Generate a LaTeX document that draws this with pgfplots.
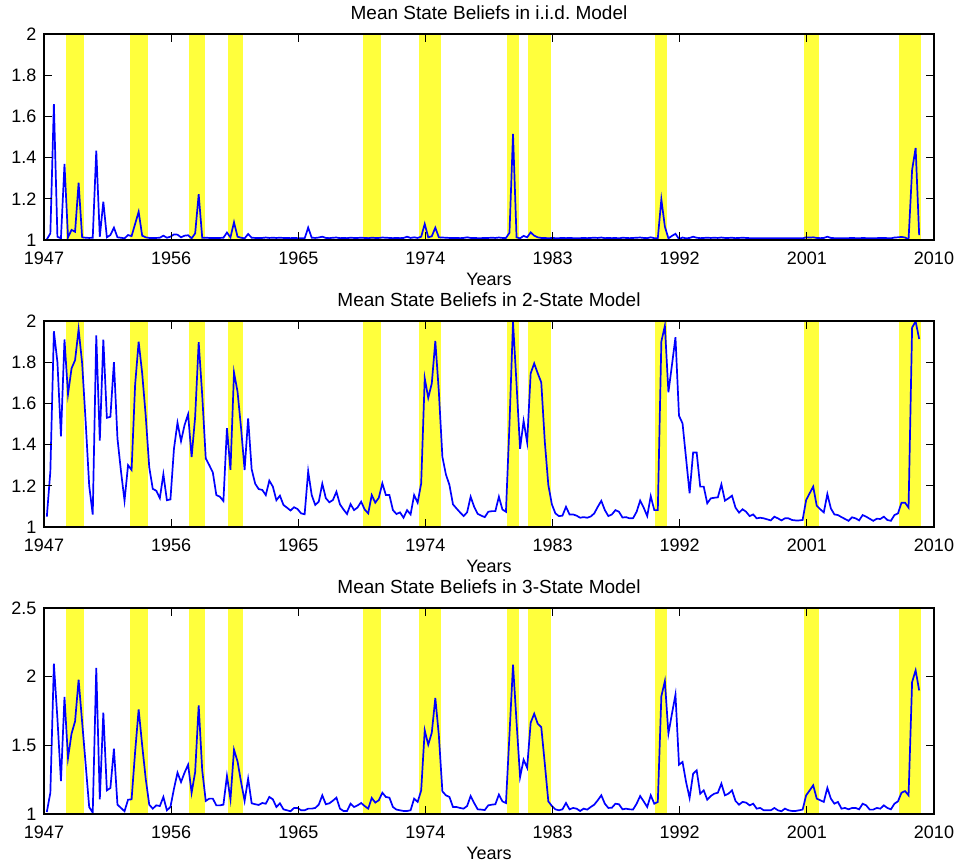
\documentclass[border=0pt]{standalone}
\usepackage{fontspec}
\setmainfont{Liberation Sans}
\usepackage{pgfplots}
\usepackage{pgfplotstable}
\pgfplotsset{compat=1.18}
\definecolor{recyellow}{RGB}{255,255,60}

% quarterly mean state beliefs
\pgfplotstableread{
t iid two three
1947.20 1.003 1.050 1.015
1947.45 1.032 1.270 1.155
1947.70 1.660 1.950 2.094
1947.95 1.016 1.800 1.694
1948.20 1.008 1.440 1.240
1948.45 1.369 1.910 1.852
1948.70 1.013 1.645 1.408
1948.95 1.049 1.770 1.585
1949.20 1.040 1.810 1.675
1949.45 1.278 1.960 1.978
1949.70 1.013 1.795 1.670
1949.95 1.011 1.510 1.360
1950.20 1.010 1.200 1.050
1950.45 1.011 1.060 1.010
1950.70 1.434 1.930 2.063
1950.95 1.016 1.420 1.107
1951.20 1.186 1.910 1.738
1951.45 1.013 1.530 1.172
1951.70 1.024 1.535 1.189
1951.95 1.060 1.800 1.476
1952.20 1.013 1.430 1.068
1952.45 1.011 1.270 1.044
1952.70 1.008 1.128 1.020
1952.95 1.024 1.300 1.104
1953.20 1.019 1.277 1.107
1953.45 1.078 1.690 1.452
1953.70 1.137 1.900 1.762
1953.95 1.021 1.746 1.500
1954.20 1.013 1.540 1.257
1954.45 1.010 1.290 1.068
1954.70 1.010 1.185 1.039
1954.95 1.010 1.176 1.063
1955.20 1.011 1.140 1.058
1955.45 1.021 1.256 1.124
1955.70 1.011 1.130 1.027
1955.95 1.016 1.134 1.051
1956.20 1.027 1.380 1.184
1956.45 1.026 1.506 1.301
1956.70 1.013 1.417 1.233
1956.95 1.021 1.495 1.301
1957.20 1.023 1.547 1.359
1957.45 1.008 1.340 1.155
1957.70 1.032 1.535 1.306
1957.95 1.222 1.897 1.791
1958.20 1.011 1.640 1.318
1958.45 1.011 1.333 1.095
1958.70 1.010 1.300 1.112
1958.95 1.010 1.265 1.112
1959.20 1.010 1.155 1.063
1959.45 1.010 1.147 1.063
1959.70 1.011 1.126 1.068
1959.95 1.036 1.480 1.277
1960.20 1.013 1.277 1.107
1960.45 1.086 1.750 1.468
1960.70 1.016 1.657 1.383
1960.95 1.011 1.480 1.233
1961.20 1.008 1.277 1.095
1961.45 1.029 1.527 1.257
1961.70 1.011 1.280 1.078
1961.95 1.010 1.210 1.071
1962.20 1.010 1.184 1.066
1962.45 1.010 1.180 1.080
1962.70 1.012 1.155 1.075
1962.95 1.010 1.225 1.124
1963.20 1.011 1.196 1.107
1963.45 1.010 1.130 1.051
1963.70 1.011 1.152 1.078
1963.95 1.010 1.107 1.034
1964.20 1.010 1.094 1.027
1964.45 1.009 1.080 1.020
1964.70 1.010 1.096 1.044
1964.95 1.009 1.087 1.044
1965.20 1.008 1.066 1.027
1965.45 1.008 1.062 1.027
1965.70 1.060 1.270 1.039
1965.95 1.011 1.155 1.039
1966.20 1.010 1.107 1.044
1966.45 1.012 1.123 1.068
1966.70 1.016 1.210 1.136
1966.95 1.010 1.140 1.071
1967.20 1.009 1.120 1.078
1967.45 1.011 1.131 1.097
1967.70 1.012 1.171 1.119
1967.95 1.009 1.110 1.039
1968.20 1.010 1.085 1.022
1968.45 1.009 1.063 1.022
1968.70 1.011 1.111 1.075
1968.95 1.010 1.082 1.051
1969.20 1.010 1.095 1.063
1969.45 1.011 1.123 1.080
1969.70 1.010 1.085 1.058
1969.95 1.009 1.066 1.039
1970.20 1.011 1.155 1.117
1970.45 1.010 1.118 1.083
1970.70 1.010 1.142 1.100
1970.95 1.012 1.212 1.155
1971.20 1.011 1.155 1.124
1971.45 1.010 1.155 1.119
1971.70 1.009 1.082 1.051
1971.95 1.010 1.063 1.032
1972.20 1.009 1.071 1.027
1972.45 1.010 1.045 1.022
1972.70 1.016 1.082 1.022
1972.95 1.010 1.061 1.027
1973.20 1.013 1.155 1.112
1973.45 1.010 1.118 1.088
1973.70 1.016 1.212 1.172
1973.95 1.078 1.722 1.609
1974.20 1.013 1.627 1.505
1974.45 1.018 1.697 1.592
1974.70 1.060 1.903 1.845
1974.95 1.013 1.657 1.573
1975.20 1.012 1.341 1.165
1975.45 1.011 1.255 1.136
1975.70 1.010 1.204 1.124
1975.95 1.010 1.110 1.051
1976.20 1.010 1.090 1.051
1976.45 1.009 1.071 1.044
1976.70 1.010 1.053 1.039
1976.95 1.013 1.071 1.058
1977.20 1.010 1.147 1.131
1977.45 1.010 1.098 1.080
1977.70 1.009 1.064 1.034
1977.95 1.009 1.055 1.032
1978.20 1.010 1.048 1.029
1978.45 1.010 1.074 1.063
1978.70 1.011 1.077 1.068
1978.95 1.010 1.077 1.071
1979.20 1.012 1.147 1.141
1979.45 1.010 1.085 1.092
1979.70 1.010 1.074 1.080
1979.95 1.035 1.500 1.580
1980.20 1.515 1.995 2.087
1980.45 1.013 1.693 1.670
1980.70 1.008 1.380 1.269
1980.95 1.020 1.515 1.395
1981.20 1.013 1.411 1.337
1981.45 1.037 1.746 1.665
1981.70 1.021 1.794 1.730
1981.95 1.013 1.746 1.657
1982.20 1.010 1.702 1.633
1982.45 1.010 1.414 1.366
1982.70 1.008 1.204 1.092
1982.95 1.010 1.110 1.058
1983.20 1.009 1.066 1.034
1983.45 1.009 1.053 1.027
1983.70 1.010 1.055 1.034
1983.95 1.009 1.098 1.080
1984.20 1.010 1.061 1.034
1984.45 1.009 1.061 1.044
1984.70 1.008 1.055 1.039
1984.95 1.009 1.045 1.022
1985.20 1.010 1.048 1.039
1985.45 1.009 1.045 1.032
1985.70 1.010 1.051 1.051
1985.95 1.011 1.066 1.068
1986.20 1.010 1.098 1.100
1986.45 1.012 1.127 1.136
1986.70 1.009 1.082 1.075
1986.95 1.010 1.053 1.044
1987.20 1.009 1.061 1.046
1987.45 1.010 1.082 1.075
1987.70 1.008 1.074 1.071
1987.95 1.011 1.046 1.034
1988.20 1.010 1.048 1.039
1988.45 1.009 1.042 1.034
1988.70 1.010 1.043 1.033
1988.95 1.011 1.074 1.075
1989.20 1.012 1.128 1.131
1989.45 1.010 1.094 1.092
1989.70 1.009 1.053 1.051
1989.95 1.013 1.150 1.136
1990.20 1.009 1.082 1.075
1990.45 1.008 1.082 1.088
1990.70 1.197 1.900 1.857
1990.95 1.065 1.977 1.968
1991.20 1.008 1.654 1.585
1991.45 1.020 1.786 1.730
1991.70 1.030 1.921 1.869
1991.95 1.005 1.540 1.359
1992.20 1.012 1.503 1.379
1992.45 1.008 1.333 1.233
1992.70 1.010 1.164 1.117
1992.95 1.016 1.362 1.294
1993.20 1.011 1.362 1.318
1993.45 1.009 1.196 1.148
1993.70 1.010 1.196 1.172
1993.95 1.011 1.115 1.104
1994.20 1.010 1.139 1.131
1994.45 1.011 1.142 1.148
1994.70 1.010 1.144 1.155
1994.95 1.012 1.207 1.221
1995.20 1.010 1.128 1.136
1995.45 1.010 1.139 1.148
1995.70 1.011 1.152 1.172
1995.95 1.009 1.094 1.095
1996.20 1.010 1.070 1.068
1996.45 1.011 1.086 1.088
1996.70 1.010 1.074 1.083
1996.95 1.009 1.053 1.063
1997.20 1.009 1.061 1.075
1997.45 1.008 1.042 1.039
1997.70 1.009 1.045 1.044
1997.95 1.008 1.042 1.027
1998.20 1.008 1.037 1.027
1998.45 1.008 1.032 1.027
1998.70 1.009 1.050 1.044
1998.95 1.008 1.042 1.027
1999.20 1.008 1.032 1.020
1999.45 1.009 1.042 1.039
1999.70 1.008 1.042 1.027
1999.95 1.008 1.034 1.022
2000.20 1.008 1.032 1.022
2000.45 1.009 1.032 1.027
2000.70 1.008 1.034 1.032
2000.95 1.013 1.131 1.136
2001.20 1.012 1.164 1.172
2001.45 1.013 1.196 1.209
2001.70 1.010 1.103 1.112
2001.95 1.009 1.086 1.100
2002.20 1.010 1.071 1.088
2002.45 1.016 1.160 1.190
2002.70 1.010 1.090 1.112
2002.95 1.009 1.061 1.075
2003.20 1.009 1.058 1.088
2003.45 1.009 1.048 1.039
2003.70 1.008 1.039 1.044
2003.95 1.009 1.030 1.034
2004.20 1.010 1.047 1.044
2004.45 1.009 1.042 1.044
2004.70 1.008 1.032 1.034
2004.95 1.010 1.058 1.075
2005.20 1.009 1.050 1.063
2005.45 1.008 1.040 1.032
2005.70 1.009 1.030 1.032
2005.95 1.009 1.040 1.044
2006.20 1.010 1.039 1.039
2006.45 1.010 1.050 1.063
2006.70 1.009 1.034 1.044
2006.95 1.008 1.030 1.034
2007.20 1.012 1.058 1.075
2007.45 1.013 1.066 1.092
2007.70 1.015 1.118 1.155
2007.95 1.012 1.118 1.167
2008.20 1.003 1.094 1.136
2008.45 1.340 1.968 1.961
2008.70 1.447 1.998 2.046
2008.95 1.024 1.913 1.900
}\beliefs

% recession shading (yellow bands)
\newcommand{\recband}[2]{%
  \addplot[fill=recyellow,draw=none,forget plot] coordinates {(#1,3) (#2,3)} \closedcycle;}
\newcommand{\recessions}{%
  \recband{1948.55}{1949.85}
  \recband{1953.06}{1954.33}
  \recband{1957.29}{1958.37}
  \recband{1960.03}{1961.11}
  \recband{1969.56}{1970.86}
  \recband{1973.55}{1975.10}
  \recband{1979.78}{1980.60}
  \recband{1981.26}{1982.86}
  \recband{1990.27}{1991.09}
  \recband{2000.78}{2001.86}
  \recband{2007.55}{2009.10}}

\pgfplotsset{panel/.style={
  scale only axis,width=445pt,height=103pt,anchor=south west,
  xmin=1947,xmax=2010,xtick={1947,1956,1965,1974,1983,1992,2001,2010},
  axis on top,tick align=inside,major tick length=4.2pt,
  xtick pos=both,ytick pos=both,xticklabel pos=lower,yticklabel pos=left,
  axis line style={line width=0.7pt},
  tick style={line width=0.5pt,black},
  /pgf/number format/1000 sep={},
  /pgf/number format/assume math mode=true,
  tick label style={font=\fontsize{9}{10}\selectfont,inner sep=0pt},
  xticklabel style={anchor=base,yshift=-12.2pt},
  yticklabel style={anchor=east,xshift=-3.6pt},
  xlabel={Years},
  xlabel style={at={(axis description cs:0.5,0)},anchor=base,yshift=-22.8pt,
    inner sep=0pt,font=\fontsize{9}{10}\selectfont},
  every axis title shift=0pt,
  title style={at={(0.5,1)},anchor=base,yshift=7.3pt,inner sep=0pt,
    font=\fontsize{9.5}{11}\selectfont},
}}

\begin{document}
\begin{tikzpicture}
\useasboundingbox (0,0) rectangle (479pt,-432.5pt);
\begin{axis}[panel,at={(22pt,-120pt)},ymin=1,ymax=2,ytick={1,1.2,1.4,1.6,1.8,2},
  title={Mean State Beliefs in i.i.d.\ Model}]
\recessions
\addplot[blue,line width=0.85pt] table[x=t,y=iid]{\beliefs};
\end{axis}
\begin{axis}[panel,at={(22pt,-263.5pt)},ymin=1,ymax=2,ytick={1,1.2,1.4,1.6,1.8,2},
  title={Mean State Beliefs in 2-State Model}]
\recessions
\addplot[blue,line width=0.85pt] table[x=t,y=two]{\beliefs};
\end{axis}
\begin{axis}[panel,at={(22pt,-407pt)},ymin=1,ymax=2.5,ytick={1,1.5,2,2.5},
  title={Mean State Beliefs in 3-State Model}]
\recessions
\addplot[blue,line width=0.85pt] table[x=t,y=three]{\beliefs};
\end{axis}
\end{tikzpicture}
\end{document}
